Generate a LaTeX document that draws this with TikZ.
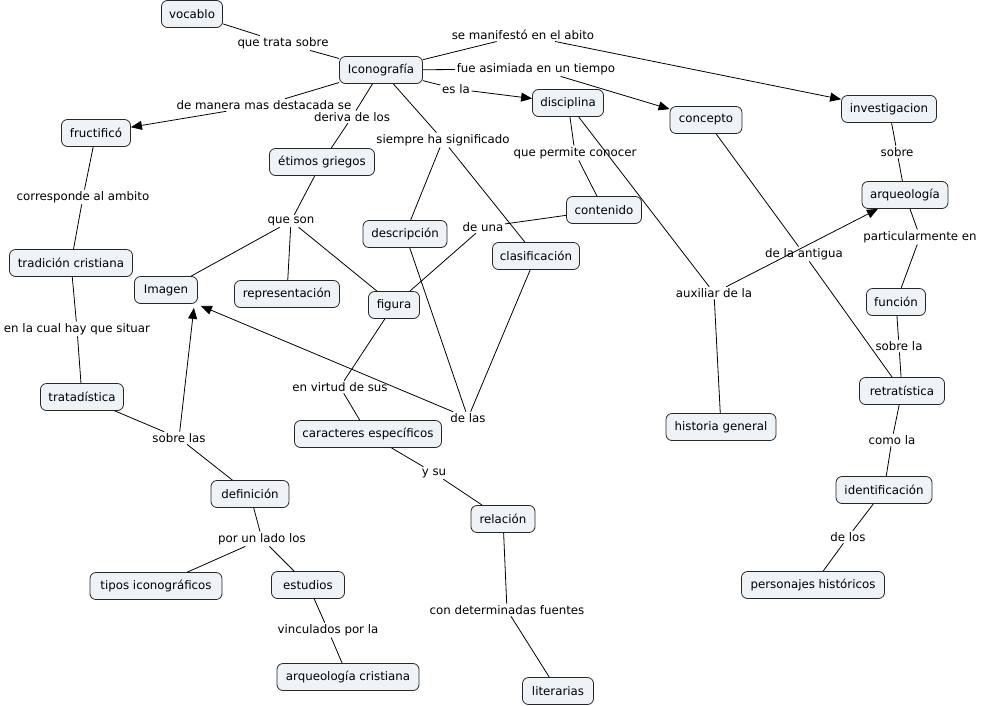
\documentclass[tikz,border=0pt]{standalone}
\usepackage{fontspec}
\setmainfont{DejaVu Sans}
\usepackage{xcolor}
\usepackage{tikz}
\usetikzlibrary{arrows.meta}
\definecolor{boxfill}{HTML}{EDF3F6}

\begin{document}
\begin{tikzpicture}[
	x=1pt, y=-1pt,
	concept/.style={
		draw=black!85, line width=0.8pt, fill=boxfill,
		rounded corners=6pt,
		minimum height=27pt, inner xsep=3pt,
		font=\fontsize{11.8}{14}\selectfont,
		anchor=center
	},
	phrase/.style={
		inner sep=1.5pt,
		font=\fontsize{11.8}{14}\selectfont,
		anchor=center
	},
	link/.style={
		black, line width=0.8pt
	},
	ptr/.style={
		-{Triangle[length=11pt,width=9pt]}, black, line width=0.8pt
	}
	]
	\useasboundingbox (0,0) rectangle (985,705);
	
	% === CONCEPTOS ===
	\foreach \n/\x/\y/\w/\t in {
		vocablo/192/14/61/vocablo,
		icono/381/70/83/Iconografía,
		fructi/96/133/69/fructificó,
		etimos/322/162/105/étimos griegos,
		disciplina/568/103/71/disciplina,
		concepto/706/120/72/concepto,
		invest/889/109/95/investigacion,
		arqueo/905/195/86/arqueología,
		contenido/604/210/75/contenido,
		descrip/405/234/84/descripción,
		clasif/536/256/87/clasificación,
		tradicion/71/263/123/tradición cristiana,
		imagen/166/290/63/Imagen,
		repres/287/294/105/representación,
		figura/394/305/51/figura,
		tratad/82/397/83/tratadística,
		caracteres/368/434/147/caracteres específicos,
		historia/721/427/110/historia general,
		retrat/902/391/85/retratística,
		funcion/896/302/59/función,
		definicion/250/494/78/definición,
		relacion/503/519/64/relación,
		identif/884/490/96/identificación,
		tipos/156/586/132/tipos iconográficos,
		estudios/308/585/73/estudios,
		personajes/813/585/143/personajes históricos,
		arqcrist/348/677/142/arqueología cristiana,
		literarias/558/691/71/literarias} {
		\node[concept, minimum width=\w pt] (\n) at (\x,\y) {\t};
	}
	
	% === FRASES DE ENLACE ===
	\foreach \n/\x/\y/\t in {
		quetrata/283/43/que trata sobre,
		manifesto/523/35/se manifestó en el abito,
		asimiada/536/69/fue asimiada en un tiempo,
		esla/456/89/es la,
		destacada/264/105/de manera mas destacada se,
		deriva/352/117/deriva de los,
		siempre/443/140/siempre ha significado,
		permite/575/153/que permite conocer,
		corresponde/83/197/corresponde al ambito,
		queson/291/221/que son,
		deuna/483/227/de una,
		particular/920/237/particularmente en,
		antigua/804/254/de la antigua,
		auxiliar/714/293/auxiliar de la,
		sobre/897/152/sobre,
		situar/77/329/en la cual hay que situar,
		sobrela/899/346/sobre la,
		virtud/340/387/en virtud de sus,
		delas/468/418/de las,
		sobrelas/179/438/sobre las,
		comola/892/440/como la,
		ysu/434/473/y su,
		porunlado/262/539/por un lado los,
		delos/848/537/de los,
		vinculados/328/630/vinculados por la,
		fuentes/507/610/con determinadas fuentes} {
		\node[phrase] (\n) at (\x,\y) {\t};
	}
	
	% === LINEAS ===
	\foreach \a/\b in {
		vocablo/quetrata, quetrata/icono,
		icono/manifesto, icono/asimiada, icono/esla, icono/destacada,
		icono/deriva, deriva/etimos,
		icono/siempre, siempre/descrip, siempre/clasif,
		fructi/corresponde, corresponde/tradicion,
		tradicion/situar, situar/tratad,
		tratad/sobrelas, sobrelas/definicion,
		etimos/queson, queson/imagen, queson/repres, queson/figura,
		disciplina/permite, permite/contenido,
		disciplina/auxiliar, auxiliar/historia,
		contenido/deuna, deuna/figura,
		descrip/delas, clasif/delas,
		figura/virtud, virtud/caracteres,
		caracteres/ysu, ysu/relacion,
		relacion/fuentes, fuentes/literarias,
		definicion/porunlado, porunlado/tipos, porunlado/estudios,
		estudios/vinculados, vinculados/arqcrist,
		concepto/antigua, antigua/retrat,
		invest/sobre, sobre/arqueo,
		arqueo/particular, particular/funcion,
		funcion/sobrela, sobrela/retrat,
		retrat/comola, comola/identif,
		identif/delos, delos/personajes} {
		\draw[link] (\a) -- (\b);
	}
	
	% === FLECHAS ===
	\foreach \a/\b in {
		manifesto/invest, asimiada/concepto, esla/disciplina,
		destacada/fructi, auxiliar/arqueo} {
		\draw[ptr] (\a) -- (\b);
	}
	% flechas hacia Imagen (llegan por la esquina de abajo)
	\coordinate (imgA) at ([xshift=-4pt,yshift=-4pt]imagen.south east);
	\coordinate (imgB) at ([xshift=3pt,yshift=-2pt]imagen.south east);
	\draw[ptr] (sobrelas) -- (imgA);
	\draw[ptr] (delas) -- (imgB);
	
\end{tikzpicture}
\end{document}
